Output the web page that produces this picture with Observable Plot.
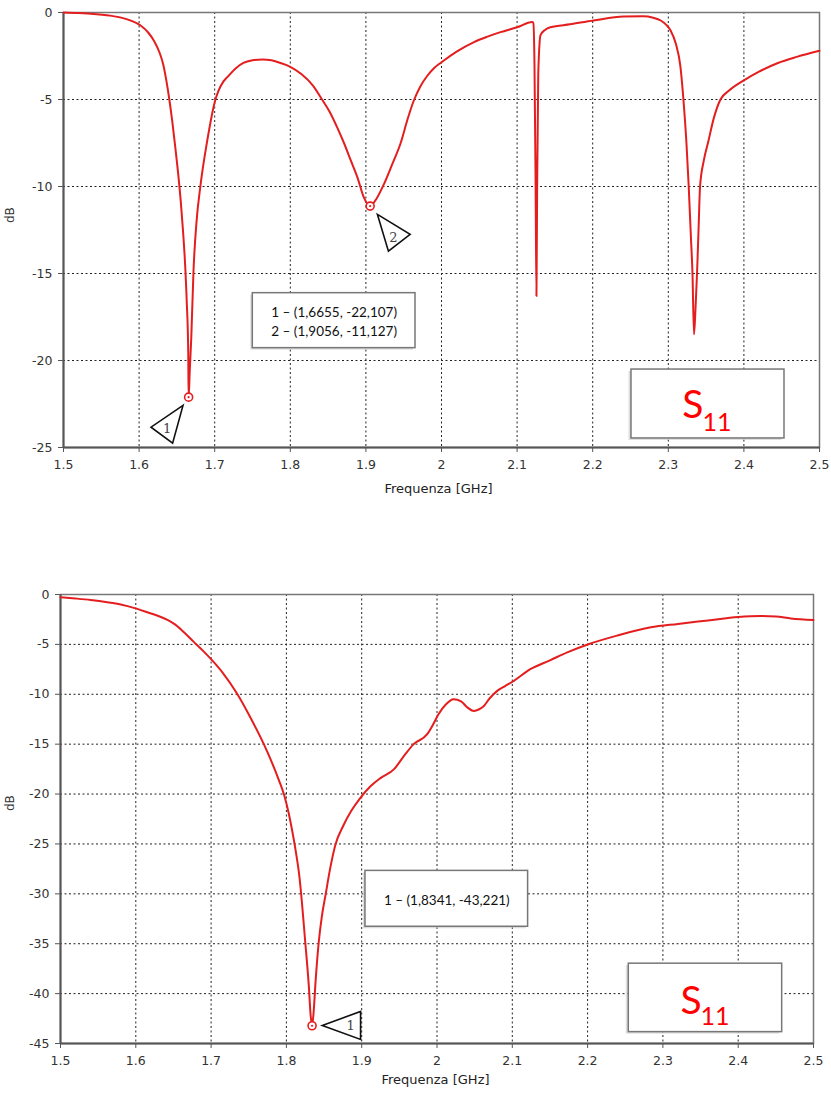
<!DOCTYPE html>
<html><head><meta charset="utf-8">
<script src="https://cdn.jsdelivr.net/npm/d3@7"></script>
<script src="https://cdn.jsdelivr.net/npm/@observablehq/plot@0.6"></script>
<style>
body{margin:0;background:#fff;}
#wrap{position:relative;width:831px;height:1098px;overflow:hidden;}
#top,#bottom{position:absolute;left:0;}
#top{top:0}#bottom{top:540px}
</style></head><body><div id="wrap"><div id="top"></div><div id="bottom"></div></div>
<script>
// ---------- data ----------
const xTicks = [1.5, 1.6, 1.7, 1.8, 1.9, 2, 2.1, 2.2, 2.3, 2.4, 2.5];
const yTicksTop = [-25, -20, -15, -10, -5, 0];
const yTicksBottom = [-45, -40, -35, -30, -25, -20, -15, -10, -5, 0];

const topFreq = [1.500,1.520,1.540,1.560,1.575,1.590,1.602,1.612,1.620,1.627,1.632,1.636,1.640,1.644,1.648,1.652,1.655,1.658,1.661,1.663,1.665,1.6655,1.667,1.669,1.672,1.676,1.681,1.690,1.701,1.705,1.711,1.717,1.728,1.738,1.750,1.763,1.775,1.787,1.800,1.815,1.830,1.842,1.852,1.862,1.871,1.880,1.889,1.897,1.9056,1.914,1.924,1.935,1.946,1.955,1.963,1.972,1.981,1.990,2.000,2.020,2.043,2.060,2.078,2.100,2.120,2.1215,2.123,2.1245,2.1256,2.1265,2.128,2.131,2.137,2.144,2.170,2.201,2.241,2.267,2.280,2.290,2.297,2.303,2.310,2.316,2.320,2.324,2.327,2.330,2.332,2.334,2.336,2.338,2.340,2.342,2.347,2.353,2.360,2.369,2.380,2.400,2.420,2.445,2.470,2.500];
const topDb = [0.00,-0.03,-0.08,-0.17,-0.28,-0.48,-0.75,-1.15,-1.65,-2.3,-3.0,-3.9,-5.0,-6.3,-7.8,-9.4,-10.8,-12.5,-14.6,-16.6,-19.5,-22.107,-20.6,-18.7,-14.8,-12.0,-10.0,-7.4,-5.0,-4.5,-4.0,-3.7,-3.2,-2.9,-2.75,-2.7,-2.75,-2.9,-3.12,-3.55,-4.2,-5.0,-5.7,-6.6,-7.5,-8.5,-9.5,-10.6,-11.127,-10.7,-9.85,-8.7,-7.5,-6.15,-5.1,-4.25,-3.65,-3.2,-2.86,-2.25,-1.7,-1.4,-1.13,-0.85,-0.55,-0.6,-3.0,-10.0,-16.3,-10.0,-3.5,-1.3,-1.0,-0.85,-0.68,-0.46,-0.23,-0.22,-0.3,-0.46,-0.7,-1.03,-1.8,-3.1,-5.0,-7.5,-10.0,-13.0,-15.0,-18.5,-17.0,-15.0,-12.5,-10.0,-8.5,-7.4,-6.1,-5.0,-4.5,-3.9,-3.4,-2.9,-2.55,-2.2];

const botFreq = [1.500,1.520,1.540,1.562,1.580,1.602,1.620,1.630,1.642,1.652,1.660,1.677,1.690,1.699,1.715,1.735,1.752,1.770,1.780,1.790,1.797,1.803,1.808,1.813,1.817,1.825,1.830,1.832,1.8341,1.836,1.839,1.843,1.847,1.852,1.858,1.865,1.876,1.886,1.898,1.912,1.925,1.943,1.955,1.969,1.987,1.995,2.002,2.012,2.022,2.032,2.040,2.049,2.056,2.062,2.070,2.080,2.090,2.102,2.124,2.150,2.173,2.202,2.239,2.284,2.320,2.360,2.400,2.430,2.450,2.470,2.500];
const botDb = [-0.27,-0.4,-0.55,-0.77,-1.0,-1.44,-1.9,-2.15,-2.55,-3.0,-3.5,-4.75,-5.7,-6.4,-7.8,-10.0,-12.3,-15.0,-16.7,-18.6,-20.1,-21.9,-23.8,-26.0,-28.1,-34.8,-39.5,-42.0,-43.221,-42.0,-38.5,-34.8,-32.3,-30.1,-27.5,-25.1,-23.1,-21.7,-20.4,-19.2,-18.4,-17.5,-16.3,-15.0,-14.0,-13.0,-12.0,-11.0,-10.5,-10.7,-11.3,-11.67,-11.5,-11.2,-10.4,-9.66,-9.2,-8.65,-7.48,-6.6,-5.8,-4.96,-4.12,-3.29,-2.95,-2.6,-2.25,-2.15,-2.2,-2.4,-2.55];

const topMarkerFreq = [1.6655, 1.9056];
const topMarkerDb = [-22.107, -11.127];
const topMarkerLabel = ["1", "2"];
const botMarkerFreq = [1.8341];
const botMarkerDb = [-43.221];
const botMarkerLabel = ["1"];

const topReadout = ["1 – (1,6655, -22,107)", "2 – (1,9056, -11,127)"];
const botReadout = ["1 – (1,8341, -43,221)"];
const s11Main = "S";
const s11Sub = "11";
const xLabel = "Frequenza [GHz]";
const yLabel = "dB";

// ---------- annotation layout (data coordinates / pixel offsets) ----------
const topReadoutBox = {x1: 1.7504, x2: 1.9656, y1: -16.13, y2: -19.29};
const botReadoutBox = {x1: 1.905, x2: 2.121, y1: -27.7, y2: -33.3};
const topS11Box = {x1: 2.2513, x2: 2.4537, y1: -20.52, y2: -24.48, sdx: -25.8, sdy: 14.2, subdx: -5.5, subdy: 26.5};
const botS11Box = {x1: 2.2547, x2: 2.4584, y1: -37.0, y2: -43.86, sdx: -25, sdy: 15.7, subdx: -5, subdy: 26.7};
// triangle pointer shapes (pixel offsets from the marker)
const topTriangles = [
  {pts: [[-5.6, 8.3], [-37.6, 30], [-16, 46]], lab: [-21.6, 31.3]},
  {pts: [[7.3, 8.3], [40, 28.3], [18.3, 45]], lab: [23.3, 31.7]}
];
const botTriangles = [
  {pts: [[10.2, -0.3], [48.5, -14.3], [48.5, 13.7]], lab: [38.5, 0.4]}
];

function triSymbol(pts) {
  return {draw(ctx) {
    ctx.moveTo(pts[0][0], pts[0][1]);
    ctx.lineTo(pts[1][0], pts[1][1]);
    ctx.lineTo(pts[2][0], pts[2][1]);
    ctx.closePath();
  }};
}

function makeChart(cfg) {
  const series = cfg.freq.map((f, i) => ({f, db: cfg.db[i]}));
  const markers = cfg.markerFreq.map((f, i) => ({f, db: cfg.markerDb[i], label: cfg.markerLabel[i]}));
  const rb = cfg.readoutBox;
  const sb = cfg.s11Box;
  const rbCenter = {x: (rb.x1 + rb.x2) / 2, y: (rb.y1 + rb.y2) / 2, text: cfg.readout.join("\n")};
  const sbCenter = {x: (sb.x1 + sb.x2) / 2, y: (sb.y1 + sb.y2) / 2};
  const triMarks = [];
  markers.forEach((m, i) => {
    const t = cfg.triangles[i];
    triMarks.push(Plot.dot([m], {x: "f", y: "db", symbol: triSymbol(t.pts), r: 5, fill: "white", stroke: "#111", strokeWidth: 1.6}));
    triMarks.push(Plot.text([m], {x: "f", y: "db", text: "label", dx: t.lab[0], dy: t.lab[1], fontFamily: "DejaVu Serif", fontSize: 13, fill: "#444"}));
  });
  return Plot.plot({
    width: 831,
    height: cfg.height,
    marginTop: cfg.mt, marginBottom: cfg.mb, marginLeft: cfg.ml, marginRight: cfg.mr,
    x: {domain: [1.5, 2.5]},
    y: {domain: cfg.yDomain},
    style: {fontFamily: "DejaVu Sans", fontSize: "12.5px", color: "#333", background: "white", overflow: "visible"},
    marks: [
      Plot.gridX(xTicks, {stroke: "#222", strokeOpacity: 1, strokeDasharray: "2,2.5", strokeWidth: 1}),
      Plot.gridY(cfg.yTicks, {stroke: "#222", strokeOpacity: 1, strokeDasharray: "2,2.5", strokeWidth: 1}),
      Plot.frame({stroke: "#777", strokeWidth: 1.5}),
      Plot.ruleX([1.5], {stroke: "#555", strokeWidth: 2}),
      Plot.ruleY([cfg.yDomain[0]], {stroke: "#555", strokeWidth: 2}),
      Plot.axisX(xTicks, {tickFormat: d => String(d), tickSize: 5, tickPadding: 8, label: null, stroke: "#555"}),
      Plot.axisY(cfg.yTicks, {tickFormat: d => String(d), tickSize: 5, tickPadding: 6, label: null, stroke: "#555"}),
      Plot.text([xLabel], {frameAnchor: "bottom", text: d => d, dx: cfg.xlabDx, dy: cfg.xlabDy, fontFamily: "DejaVu Sans", fontSize: 13, fill: "#222"}),
      Plot.text([yLabel], {frameAnchor: "left", text: d => d, dx: cfg.ylabDx, dy: cfg.ylabDy, rotate: -90, fontFamily: "DejaVu Sans", fontSize: 12, fill: "#333"}),
      Plot.line(series, {x: "f", y: "db", stroke: "#e41e1e", strokeWidth: 2, curve: "monotone-x"}),
      // readout box
      Plot.rect([rb], {x1: "x1", x2: "x2", y1: "y1", y2: "y2", fill: "#c8c8c8", dx: -2, dy: 2, fillOpacity: 0.6}),
      Plot.rect([rb], {x1: "x1", x2: "x2", y1: "y1", y2: "y2", fill: "white", stroke: "#777", strokeWidth: 1.5}),
      Plot.text([rbCenter], {x: "x", y: "y", text: "text", fontFamily: "Lato", fontSize: 13.5, lineHeight: 1.36, fill: "#111"}),
      // S11 box
      Plot.rect([sb], {x1: "x1", x2: "x2", y1: "y1", y2: "y2", fill: "#c8c8c8", dx: -2.5, dy: 2, fillOpacity: 0.6}),
      Plot.rect([sb], {x1: "x1", x2: "x2", y1: "y1", y2: "y2", fill: "white", stroke: "#777", strokeWidth: 1.5}),
      Plot.text([sbCenter], {x: "x", y: "y", text: () => s11Main, textAnchor: "start", lineAnchor: "bottom", dx: sb.sdx, dy: sb.sdy, fontFamily: "Lato", fontSize: 39, fill: "#ff0000"}),
      Plot.text([sbCenter], {x: "x", y: "y", text: () => s11Sub, textAnchor: "start", lineAnchor: "bottom", dx: sb.subdx, dy: sb.subdy, fontFamily: "Lato", fontSize: 25, fill: "#ff0000"}),
      // markers
      ...triMarks,
      Plot.dot(markers, {x: "f", y: "db", r: 4, fill: "white", stroke: "#e41e1e", strokeWidth: 1.6}),
      Plot.dot(markers, {x: "f", y: "db", r: 1.1, fill: "#e41e1e"})
    ]
  });
}

document.getElementById("top").append(makeChart({
  freq: topFreq, db: topDb, yDomain: [-25, 0], yTicks: yTicksTop,
  height: 540, mt: 12, mb: 93, ml: 63, mr: 12,
  markerFreq: topMarkerFreq, markerDb: topMarkerDb, markerLabel: topMarkerLabel,
  triangles: topTriangles, readout: topReadout, readoutBox: topReadoutBox, s11Box: topS11Box,
  xlabDx: -3, xlabDy: 45, ylabDx: -53, ylabDy: -7
}));
document.getElementById("bottom").append(makeChart({
  freq: botFreq, db: botDb, yDomain: [-45, 0], yTicks: yTicksBottom,
  height: 558, mt: 54, mb: 55, ml: 60, mr: 18,
  markerFreq: botMarkerFreq, markerDb: botMarkerDb, markerLabel: botMarkerLabel,
  triangles: botTriangles, readout: botReadout, readoutBox: botReadoutBox, s11Box: botS11Box,
  xlabDx: -1.5, xlabDy: 40, ylabDx: -50, ylabDy: -8
}));
</script></body></html>
